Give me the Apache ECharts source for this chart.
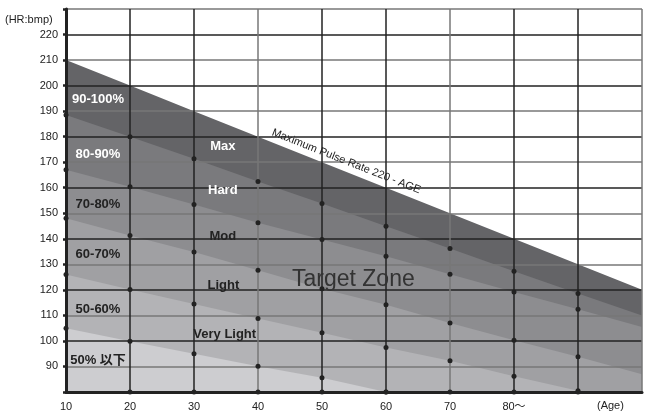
<!DOCTYPE html>
<html>
<head>
<meta charset="utf-8">
<script src="https://cdn.jsdelivr.net/npm/echarts@6/dist/echarts.min.js"></script>
<style>
  html, body { margin: 0; padding: 0; background: #fff; }
  #chart { width: 645px; height: 413px; }
</style>
</head>
<body>
<div id="chart"></div>
<script>
// ages along the bottom, one value per decade
const ages = [10, 20, 30, 40, 50, 60, 70, 80, 90, 100];
const ageLabels = ['10', '20', '30', '40', '50', '60', '70', '80～'];

// band edges (HR bpm)
const maxRate = [210, 200, 190, 180, 170, 160, 150, 140, 130, 120];
const rate90 = [188.5, 180, 171.4, 162.4, 153.8, 144.9, 136.2, 127.3, 118.6, 110];
const rate80 = [167, 160.4, 153.4, 146.3, 139.7, 133.2, 126.1, 119.2, 112.4, 105.5];
const rate70 = [148, 141.3, 134.8, 127.7, 120.4, 114.2, 107, 100.3, 93.8, 87];
const rate60 = [126, 120.1, 114.5, 108.8, 103.2, 97.4, 92.2, 86.2, 80.5, 75];
const rate50 = [105, 99.9, 95, 90.1, 85.6, 80, 75, 70, 65, 60];

const zoneNames = ['90-100%', '80-90%', '70-80%', '60-70%', '50-60%', '50% 以下'];
const effortNames = ['Max', 'Hard', 'Mod', 'Light', 'Very Light'];

const FONT = '"Liberation Sans", Arial, "Noto Sans CJK JP", sans-serif';
const Y_MIN = 80;

const bands = [
  { data: maxRate, color: '#646467' },
  { data: rate90, color: '#7a7a7d' },
  { data: rate80, color: '#8d8d90' },
  { data: rate70, color: '#a0a0a3' },
  { data: rate60, color: '#b3b3b6' },
  { data: rate50, color: '#cdcdd0' }
];

const bandSeries = bands.map(b => ({
  type: 'line',
  data: ages.map((a, i) => [a, b.data[i]]),
  showSymbol: false,
  lineStyle: { width: 0, opacity: 0 },
  areaStyle: { color: b.color, opacity: 1, origin: 'start' },
  silent: true,
  zlevel: -1
}));

// dots where the band edges cross each decade
const dots = [];
[rate90, rate80, rate70, rate60, rate50].forEach(arr => {
  ages.forEach((a, i) => {
    if (a <= 90 && arr[i] >= Y_MIN) dots.push([a, arr[i]]);
  });
});
ages.forEach(a => {
  if (a > 10 && a <= 90) dots.push([a, Y_MIN]);
});

// label anchors (age, bpm)
const zoneAt = [[15, 194.5], [15, 173], [15, 153.4], [15, 133.9], [15, 112.3], [15, 92.3]];
const effortAt = [[34.5, 176.1], [34.5, 158.9], [34.5, 140.9], [34.6, 121.7], [34.8, 102.5]];
const whiteZones = 2;
const whiteEfforts = 2;

const textItems = [];
zoneNames.forEach((t, i) => textItems.push({
  value: zoneAt[i], name: t,
  label: { color: i < whiteZones ? '#fff' : '#222' }
}));
effortNames.forEach((t, i) => textItems.push({
  value: effortAt[i], name: t,
  label: { color: i < whiteEfforts ? '#fff' : '#222' }
}));

// plain text riding on a data point
function textSeries(data, label) {
  return {
    type: 'scatter',
    data: data,
    symbolSize: 0,
    silent: true,
    z: 11,
    itemStyle: { opacity: 1 },
    label: Object.assign({ show: true, position: 'inside', formatter: '{b}', fontFamily: FONT }, label)
  };
}

const chart = echarts.init(document.getElementById('chart'));
chart.setOption({
  animation: false,
  backgroundColor: 'transparent',
  grid: { left: 66, right: -2.4, top: 9, bottom: 21, containLabel: false },
  xAxis: {
    type: 'value',
    min: 10,
    max: 100,
    interval: 10,
    axisLine: { show: true, onZero: false, lineStyle: { color: '#222', width: 3 } },
    axisTick: { show: false },
    axisLabel: {
      margin: 9,
      fontSize: 11,
      fontFamily: FONT,
      color: '#222',
      formatter: v => ageLabels[(v - 10) / 10] || ''
    },
    splitLine: {
      show: true,
      lineStyle: { color: ['#777', '#222', '#222'], width: 1.5 }
    }
  },
  yAxis: {
    type: 'value',
    min: Y_MIN,
    max: 230,
    interval: 10,
    axisLine: { show: true, lineStyle: { color: '#222', width: 3 } },
    axisTick: { show: true, length: 3, lineStyle: { color: '#222', width: 2.5 } },
    axisLabel: {
      margin: 8,
      fontSize: 11,
      fontFamily: FONT,
      color: '#222',
      formatter: v => (v >= 90 && v <= 220 ? String(v) : '')
    },
    splitLine: {
      show: true,
      lineStyle: { color: ['#222', '#777'], width: 1.5 }
    }
  },
  graphic: [
    { type: 'text', left: 5, top: 14, style: { text: '(HR:bmp)', fontSize: 11, fontFamily: FONT, fill: '#222' } },
    { type: 'text', left: 597, top: 400, style: { text: '(Age)', fontSize: 11, fontFamily: FONT, fill: '#222' } }
  ],
  series: [
    ...bandSeries,
    {
      type: 'scatter',
      data: dots,
      symbol: 'circle',
      symbolSize: 5,
      itemStyle: { color: '#222', opacity: 1 },
      silent: true,
      z: 10
    },
    textSeries(textItems, { fontSize: 13, fontWeight: 'bold' }),
    textSeries([{ value: [54.9, 124.1], name: 'Target Zone' }], { fontSize: 23, color: '#333' }),
    textSeries([{ value: [53.8, 170.3], name: 'Maximum Pulse Rate 220 - AGE' }],
      { fontSize: 11, rotate: -21.6, color: '#222' })
  ]
});
</script>
</body>
</html>
